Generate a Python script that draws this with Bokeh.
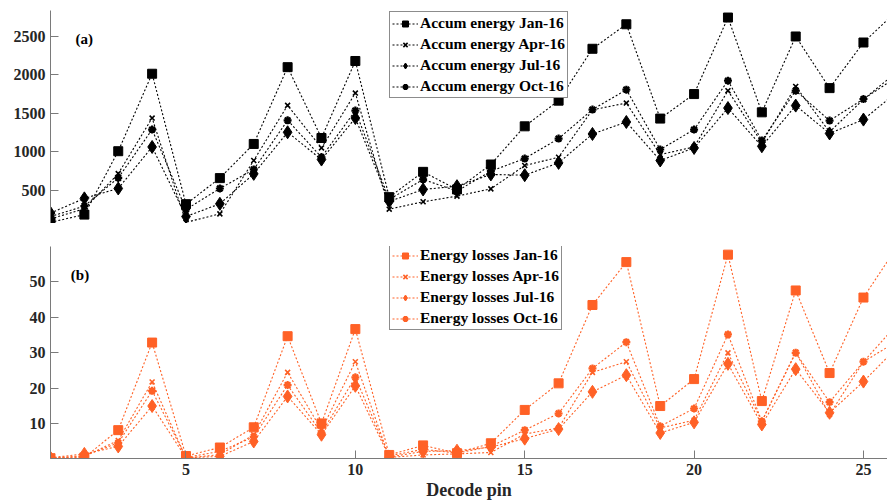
from bokeh.plotting import figure
from bokeh.models import Range1d, FixedTicker, Legend, LegendItem, Label
from bokeh.layouts import column
from bokeh.embed import file_html
from bokeh.resources import INLINE

pins = list(range(1, 27))

accum_jan = [90, 190, 1010, 2012, 325, 662, 1104, 2097, 1181, 2177, 416, 743, 515, 838,
             1332, 1664, 2335, 2652, 1432, 1749, 2739, 1513, 2494, 1826, 2416, 2830]
accum_apr = [135, 265, 720, 1439, 90, 200, 890, 1603, 1052, 1762, 260, 356, 429, 523,
             825, 932, 1545, 1633, 967, 1065, 1793, 1120, 1848, 1260, 1680, 2040]
accum_jul = [210, 400, 528, 1065, 165, 330, 717, 1255, 902, 1439, 360, 515, 558, 709,
             700, 859, 1233, 1388, 890, 1052, 1568, 1074, 1600, 1240, 1419, 1780]
accum_oct = [165, 300, 665, 1290, 257, 528, 774, 1410, 932, 1535, 386, 645, 494, 752,
             915, 1173, 1548, 1806, 1032, 1290, 1922, 1148, 1793, 1406, 1685, 1975]

loss_jan = [0.3, 0.5, 8.2, 32.9, 0.9, 3.3, 9.0, 34.7, 10.1, 36.7, 1.2, 3.9, 1.7, 4.5,
            13.9, 21.4, 43.5, 55.6, 15.0, 22.6, 57.7, 16.4, 47.6, 24.3, 45.6, 60.0]
loss_apr = [0.2, 0.8, 5.3, 21.8, 0.3, 1.3, 6.9, 24.5, 8.3, 27.5, 0.5, 1.2, 1.5, 1.9,
            7.1, 8.8, 24.5, 27.5, 8.8, 11.0, 30.0, 10.7, 30.2, 12.6, 27.5, 38.1]
loss_jul = [0.4, 1.5, 3.6, 15.0, 0.4, 0.8, 5.0, 17.7, 6.9, 20.7, 0.6, 2.2, 2.4, 3.4,
            5.8, 8.5, 19.0, 23.7, 7.4, 10.4, 26.9, 9.8, 25.4, 13.1, 21.9, 31.6]
loss_oct = [0.3, 1.0, 4.6, 19.3, 0.5, 2.2, 6.3, 20.9, 7.4, 23.1, 0.9, 2.8, 1.7, 3.6,
            8.2, 12.9, 25.6, 33.0, 9.3, 14.3, 35.2, 10.7, 30.0, 16.1, 27.5, 33.3]

accum_labels = ["Accum energy Jan-16", "Accum energy Apr-16", "Accum energy Jul-16", "Accum energy Oct-16"]
loss_labels = ["Energy losses Jan-16", "Energy losses Apr-16", "Energy losses Jul-16", "Energy losses Oct-16"]
y1_ticks = [500, 1000, 1500, 2000, 2500]
y2_ticks = [10, 20, 30, 40, 50]
x_ticks = [5, 10, 15, 20, 25]

FONT = "Liberation Serif"
ORANGE = "#FF6126"
AXC = "#7a7a7a"
TXT = "#262626"

markers = [("square", 9, 1), ("x", 7, 1.6), ("diamond", 13, 1), ("asterisk", 8, 2.2)]


def style(p):
    p.outline_line_color = None
    p.xgrid.visible = False
    p.ygrid.visible = False
    for ax in p.axis:
        ax.axis_line_color = AXC
        ax.major_tick_line_color = AXC
        ax.major_tick_in = 8
        ax.major_tick_out = 0
        ax.minor_tick_line_color = None
        ax.major_label_text_font = FONT
        ax.major_label_text_font_style = "bold"
        ax.major_label_text_font_size = "16px"
        ax.major_label_text_color = TXT


def add_series(p, series, labels, color):
    items = []
    for vals, lab, (mk, sz, lw) in zip(series, labels, markers):
        r = p.line(pins, vals, line_color=color, line_width=1.1, line_dash="2 2")
        m = p.scatter(pins, vals, marker=mk, size=sz, fill_color=color,
                      line_color=color, line_width=lw)
        items.append(LegendItem(label=lab, renderers=[r, m]))
    return items


def make_legend(items, loc):
    lg = Legend(items=items, location=loc)
    lg.label_text_font = FONT
    lg.label_text_font_style = "bold"
    lg.label_text_font_size = "15.5px"
    lg.label_text_color = "black"
    lg.border_line_color = "#8c8c8c"
    lg.border_line_alpha = 1
    lg.border_line_width = 1
    lg.background_fill_color = "white"
    lg.background_fill_alpha = 1
    lg.padding = 2
    lg.spacing = 3
    lg.margin = 0
    lg.label_height = 18
    lg.glyph_height = 15
    lg.glyph_width = 26
    lg.label_standoff = 2
    return lg


p1 = figure(width=887, height=223, x_range=Range1d(1, 25.71), y_range=Range1d(75, 2830),
            output_backend="svg", toolbar_location=None, x_axis_location=None,
            min_border_left=50, min_border_right=0, min_border_top=10, min_border_bottom=0)
style(p1)
p1.yaxis.ticker = FixedTicker(ticks=y1_ticks)
items1 = add_series(p1, [accum_jan, accum_apr, accum_jul, accum_oct], accum_labels, "black")
p1.add_layout(make_legend(items1, (339, 125)))
p1.add_layout(Label(x=1.74, y=2455, text="(a)", text_font=FONT, text_font_style="bold",
                    text_font_size="15px", text_baseline="middle", text_align="left",
                    text_color="black"))

p2 = figure(width=887, height=279, x_range=Range1d(1, 25.71), y_range=Range1d(0.2, 60),
            output_backend="svg", toolbar_location=None, x_axis_label="Decode pin",
            min_border_left=50, min_border_right=0, min_border_top=23, min_border_bottom=0)
style(p2)
p2.yaxis.ticker = FixedTicker(ticks=y2_ticks)
p2.xaxis.ticker = FixedTicker(ticks=x_ticks)
p2.xaxis.major_label_standoff = 5
p2.xaxis.axis_label_standoff = 2
p2.xaxis.axis_label_text_font = FONT
p2.xaxis.axis_label_text_font_style = "bold"
p2.xaxis.axis_label_text_font_size = "18px"
p2.xaxis.axis_label_text_color = TXT
items2 = add_series(p2, [loss_jan, loss_apr, loss_jul, loss_oct], loss_labels, ORANGE)
p2.add_layout(make_legend(items2, (339, 128)))
p2.add_layout(Label(x=1.6, y=52.1, text="(b)", text_font=FONT, text_font_style="bold",
                    text_font_size="15px", text_baseline="middle", text_align="left",
                    text_color="black"))

layout = column(p1, p2)
open("out.html", "w").write(file_html(layout, INLINE))
